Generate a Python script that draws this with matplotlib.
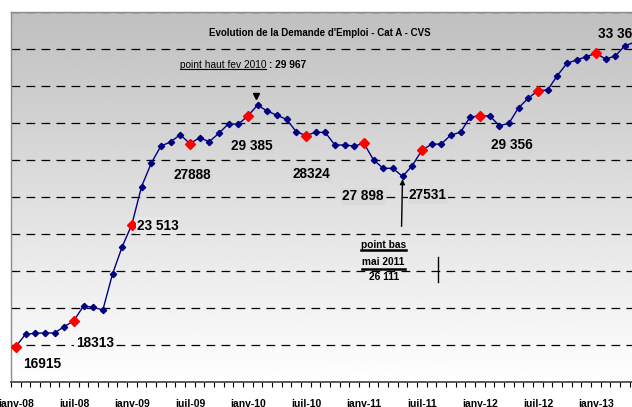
import matplotlib
matplotlib.use('Agg')
import matplotlib.pyplot as plt
import numpy as np
from matplotlib.lines import Line2D
from matplotlib.transforms import IdentityTransform, offset_copy

# Demande d'emploi Cat A - CVS, monthly from janv-08
values = [16915, 17580, 17634, 17650, 17650, 17990, 18313, 19109, 19039, 18893,
          20839, 22315, 23513, 25558, 26822, 27757, 27973, 28368, 27888, 28200,
          27990, 28444, 28963, 28930, 29385, 29967, 29649, 29417, 29200, 28530,
          28324, 28498, 28490, 27811, 27811, 27757, 27898, 27000, 26552, 26552,
          26111, 26693, 27531, 27849, 27865, 28352, 28498, 29341, 29356, 29395,
          28855, 28984, 29827, 30335, 30746, 30784, 31557, 32227, 32406, 32584,
          32768, 32460, 32622, 33179, 33360]

tick_pos = [0, 6, 12, 18, 24, 30, 36, 42, 48, 54, 60]
tick_labels = ['janv-08', 'juil-08', 'janv-09', 'juil-09', 'janv-10', 'juil-10',
               'janv-11', 'juil-11', 'janv-12', 'juil-12', 'janv-13']

# red (half-yearly) points and their labels
red_idx = [0, 6, 12, 18, 24, 30, 36, 42, 48, 54, 60]
point_labels = {0: '16915', 6: '18313', 12: '23 513', 18: '27888', 24: '29 385',
                30: '28324', 36: '27 898', 42: '27531', 48: '29 356', 60: '33 360'}

peak_idx, peak_txt = 25, '29 967'
low_idx, low_txt = 40, '26 111'

plt.rcParams['font.family'] = ['Liberation Sans', 'DejaVu Sans']

fig = plt.figure(figsize=(6.32, 4.07), dpi=100)
ax = fig.add_axes([11 / 632, 25 / 407, 621 / 632, 370 / 407])

x = np.arange(len(values))
ax.set_xlim(-0.5, 63.73)
ax.set_ylim(15000, 35000)

# gray gradient background
grad = np.linspace(1.0, 0.75, 256).reshape(-1, 1)
ax.imshow(grad, extent=(0, 1, 0, 1), transform=ax.transAxes, origin='lower',
          cmap='gray', vmin=0, vmax=1, aspect='auto', zorder=-2)


def bg(val):
    f = (val - 15000) / 20000
    g = 1.0 - 0.25 * f
    return (g, g, g)


ax.set_yticks(np.arange(15000, 35001, 2000))
ax.yaxis.grid(True, color='black', lw=0.9, linestyle=(0, (7, 5)))
ax.set_axisbelow(True)
ax.tick_params(axis='y', length=0, labelleft=False)

ax.set_xticks(tick_pos)
ax.set_xticklabels(tick_labels, fontsize=7.5, fontweight='bold')
ax.set_xticks(np.arange(-0.5, 64, 1), minor=True)
ax.tick_params(axis='x', which='major', length=0, pad=12)
ax.tick_params(axis='x', which='minor', length=3.5, width=0.8, direction='out')

for s in ['top', 'left']:
    ax.spines[s].set_color('#8c8c8c')
    ax.spines[s].set_linewidth(1)
ax.spines['right'].set_visible(False)
ax.spines['bottom'].set_color('#404040')
ax.spines['bottom'].set_linewidth(1.2)

ax.plot(x, values, color='#000080', lw=1, marker='D', markersize=3.2, zorder=3)
ax.plot([x[i] for i in red_idx], [values[i] for i in red_idx], linestyle='none',
        marker='D', markersize=4.6, color='#ff0000', zorder=4)

offsets = {0: (26, -17), 6: (21, -22), 12: (26, -1), 18: (2, -31), 24: (3.5, -30),
           30: (5, -38), 36: (-1, -53), 42: (6, -45), 48: (32, -29)}
for i, (dx, dy) in offsets.items():
    ax.annotate(point_labels[i], xy=(x[i], values[i]), xytext=(dx, dy),
                textcoords='offset pixels', ha='center', va='center',
                fontsize=9.8, fontweight='bold', zorder=5,
                bbox=dict(boxstyle='square,pad=0.1', fc=bg(values[i] - 1100), ec='none'))
ax.annotate(point_labels[60], xy=(x[60], values[60]), xytext=(2, 19),
            textcoords='offset pixels', ha='left', va='center',
            fontsize=9.8, fontweight='bold', zorder=5, annotation_clip=False)

ax.text(0.498, 0.943, "Evolution de la Demande d'Emploi - Cat A - CVS",
        transform=ax.transAxes, ha='center', va='center', fontsize=7, fontweight='bold')

# high point
t_high = ax.text(0.272, 0.857, 'point haut fev 2010', transform=ax.transAxes,
                 ha='left', va='center', fontsize=7.3)
ax.annotate(' : ' + peak_txt, xy=(1, 0), xycoords=t_high, ha='left', va='bottom',
            fontsize=7.3, fontweight='bold')
tri = offset_copy(ax.transData, fig=fig, x=-1.3, y=9.4, units='dots')
ax.plot(x[peak_idx], values[peak_idx], marker='v', markersize=4.5, color='black',
        transform=tri, zorder=5)

# low point
ax.annotate('', xy=(x[low_idx], values[low_idx]), xytext=(-1, -50),
            textcoords='offset pixels',
            arrowprops=dict(arrowstyle='-|>', color='black', lw=1, shrinkA=0, shrinkB=2,
                            mutation_scale=7))
note = dict(xy=(x[low_idx], values[low_idx]), textcoords='offset pixels',
            ha='center', va='center', fontsize=7.3, fontweight='bold')
t_bas = ax.annotate('point bas', xytext=(-19, -69), **note)
t_mai = ax.annotate('mai 2011', xytext=(-19, -86), **note)
ax.annotate(low_txt, xytext=(-19, -101), **note)

fig.canvas.draw()
renderer = fig.canvas.get_renderer()


def underline(t, lw):
    bb = t.get_window_extent(renderer)
    _, _, d = renderer.get_text_width_height_descent(t.get_text(), t.get_fontproperties(), ismath=False)
    y = bb.y0 + d - 1.5
    fig.add_artist(Line2D([bb.x0, bb.x1], [y, y], color='black', lw=lw,
                          transform=IdentityTransform()))


underline(t_high, 0.8)
underline(t_bas, 1.8)
underline(t_mai, 1.8)

# short vertical stroke right of the low-point note
px, py = ax.transData.transform((x[low_idx], values[low_idx]))
fig.add_artist(Line2D([px + 35.6, px + 35.6], [py - 81, py - 106], color='black', lw=1,
                      transform=IdentityTransform()))

fig.savefig('out.png', dpi=100)
